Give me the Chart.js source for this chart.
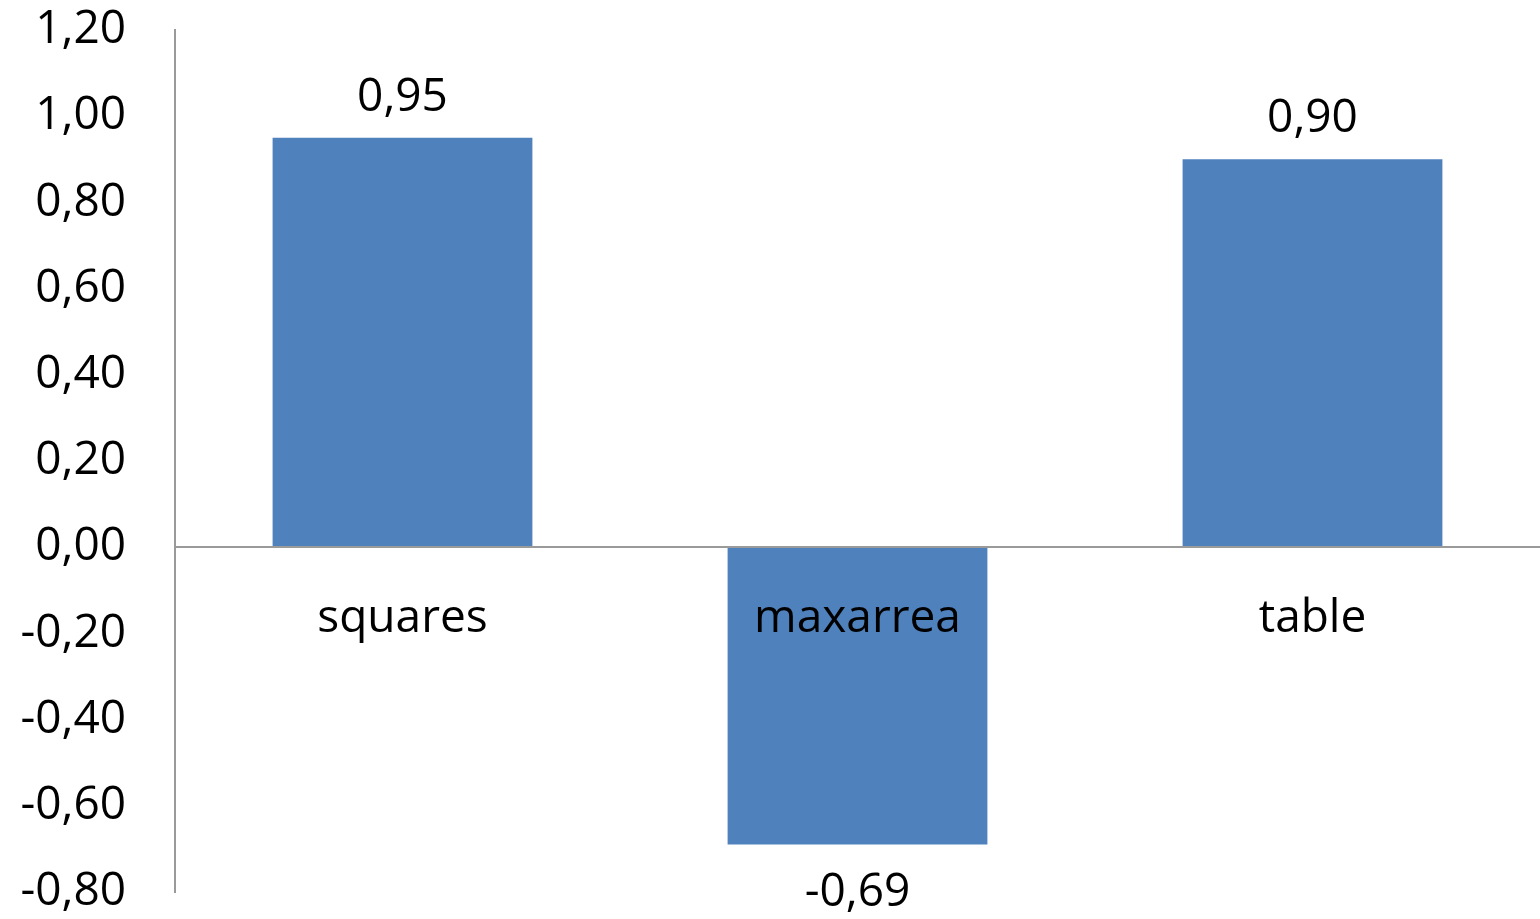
<!DOCTYPE html>
<html>
<head>
    <meta charset="UTF-8">
    <title>Bar chart</title>
    <script src="https://cdn.jsdelivr.net/npm/chart.js"></script>
    <style>
        body {
            margin: 0;
            background: #ffffff;
        }

        .chart-container {
            width: 1540px;
            height: 919px;
        }
    </style>
</head>
<body>

    <div class="chart-container">
        <canvas id="graphBars"></canvas>
    </div>

    <script>
        // Données
        const categories = ['squares', 'maxarrea', 'table'];
        const values = [0.95, -0.69, 0.90];
        const yTicks = [-0.8, -0.6, -0.4, -0.2, 0, 0.2, 0.4, 0.6, 0.8, 1.0, 1.2];

        const fontFamily = "'Open Sans', sans-serif";
        const fmt = v => v.toFixed(2).replace('.', ',');

        // Étiquettes de valeurs au-dessus / en dessous des barres
        const valueLabels = {
            id: 'valueLabels',
            afterDatasetsDraw(chart) {
                const ctx = chart.ctx;
                const meta = chart.getDatasetMeta(0);
                ctx.save();
                ctx.font = '46px ' + fontFamily;
                ctx.fillStyle = '#000000';
                ctx.textAlign = 'center';
                ctx.textBaseline = 'middle';
                meta.data.forEach((bar, i) => {
                    const v = values[i];
                    const y = v >= 0 ? bar.y - 40 : bar.y + 48;
                    ctx.fillText(fmt(v), bar.x, y);
                });
                ctx.restore();
            }
        };

        const ctx1 = document.getElementById('graphBars').getContext('2d');
        const graphBars = new Chart(ctx1, {
            type: 'bar',
            data: {
                labels: categories,
                datasets: [{
                    data: values,
                    backgroundColor: '#4F81BD',
                    borderWidth: 0,
                    categoryPercentage: 1,
                    barPercentage: 0.571
                }]
            },
            options: {
                responsive: true,
                maintainAspectRatio: false,
                animation: false,
                layout: {
                    padding: { top: 30, bottom: 27, left: 0, right: 0 }
                },
                plugins: {
                    legend: { display: false },
                    tooltip: { enabled: false }
                },
                scales: {
                    x: {
                        position: { y: 0 },
                        afterFit(scale) { scale.height = 0; },
                        grid: { display: false, drawTicks: false },
                        border: { display: true, color: '#9a9a9a', width: 2, z: 1 },
                        ticks: {
                            z: 1,
                            autoSkip: false,
                            color: '#000000',
                            font: { family: fontFamily, size: 46 },
                            padding: 44,
                            maxRotation: 0
                        }
                    },
                    y: {
                        min: -0.8,
                        max: 1.2,
                        afterFit(scale) {
                            scale.width = 175;
                            scale.paddingTop = 0;
                            scale.paddingBottom = 0;
                        },
                        afterBuildTicks(scale) {
                            scale.ticks = yTicks.map(v => ({ value: v }));
                        },
                        grid: { display: false, drawTicks: false },
                        border: { display: true, color: '#9a9a9a', width: 2 },
                        ticks: {
                            color: '#000000',
                            font: { family: fontFamily, size: 46 },
                            padding: 49,
                            callback: v => fmt(v)
                        }
                    }
                }
            },
            plugins: [valueLabels]
        });
    </script>

</body>
</html>
